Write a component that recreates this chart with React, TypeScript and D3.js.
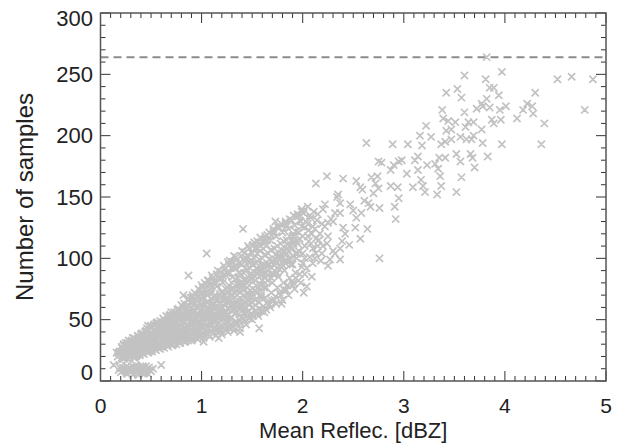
import React from "react";
import * as d3 from "d3";

// ---- data: [mean reflectivity (dBZ), number of samples] ----
const lowCluster: [number, number][] = [
  [0.13, 13], [0.18, 9], [0.2, 7], [0.22, 11], [0.25, 8], [0.27, 6], [0.28, 10], [0.3, 7], [0.31, 12],
  [0.33, 6], [0.34, 9], [0.36, 7], [0.37, 11], [0.38, 6], [0.4, 8], [0.41, 7], [0.43, 10], [0.44, 7],
  [0.46, 9], [0.48, 11], [0.5, 8], [0.52, 10], [0.6, 13], [0.35, 13], [0.24, 10], [0.29, 8],
  [0.42, 12], [0.32, 9], [0.39, 10], [0.26, 12], [0.45, 12], [0.21, 8],
  [0.19, 11], [0.23, 9], [0.26, 6], [0.3, 10], [0.32, 5], [0.35, 8], [0.37, 5], [0.39, 7], [0.41, 11],
  [0.43, 6], [0.45, 9], [0.47, 6], [0.49, 9], [0.27, 9], [0.34, 11], [0.36, 10],
];

const mainBand: [number, number][] = [
  [0.16, 23], [0.17, 20], [0.19, 24], [0.2, 17], [0.21, 28], [0.22, 21],
  [0.24, 19], [0.24, 26], [0.25, 31], [0.26, 23], [0.27, 18], [0.28, 28], [0.28, 33],
  [0.3, 21], [0.3, 25], [0.31, 30], [0.32, 35], [0.33, 19], [0.33, 27], [0.34, 23], [0.34, 32],
  [0.36, 21], [0.36, 29], [0.37, 36], [0.38, 25], [0.38, 33], [0.39, 22], [0.4, 30], [0.4, 38], [0.4, 27],
  [0.42, 23], [0.42, 34], [0.43, 29], [0.44, 40], [0.44, 25], [0.45, 36], [0.46, 31], [0.46, 43], [0.46, 27],
  [0.48, 24], [0.48, 38], [0.49, 33], [0.5, 29], [0.5, 45], [0.51, 26], [0.52, 41], [0.52, 35], [0.52, 30],
  [0.54, 27], [0.54, 37], [0.55, 44], [0.56, 32], [0.56, 48], [0.57, 29], [0.58, 40], [0.58, 35],
  [0.6, 28], [0.6, 38], [0.61, 46], [0.62, 33], [0.62, 51], [0.63, 30], [0.64, 42], [0.64, 37],
  [0.66, 29], [0.66, 45], [0.67, 39], [0.68, 53], [0.68, 34], [0.69, 31], [0.7, 48], [0.7, 41], [0.7, 56],
  [0.72, 30], [0.72, 36], [0.73, 44], [0.74, 52], [0.74, 39], [0.75, 33], [0.76, 58], [0.76, 47], [0.76, 42],
  [0.78, 31], [0.78, 50], [0.79, 37], [0.8, 45], [0.8, 62], [0.81, 34], [0.82, 55], [0.82, 41], [0.82, 48],
  [0.84, 32], [0.84, 58], [0.85, 39], [0.86, 46], [0.86, 66], [0.87, 36], [0.88, 52], [0.88, 43], [0.88, 61],
  [0.9, 33], [0.9, 49], [0.91, 70], [0.92, 40], [0.92, 56], [0.93, 37], [0.94, 63], [0.94, 45], [0.94, 52],
  [0.96, 34], [0.96, 59], [0.97, 42], [0.98, 74], [0.98, 49], [0.99, 38], [1.0, 66], [1.0, 54], [1.0, 45], [1.0, 78],
  [1.02, 35], [1.02, 61], [1.03, 48], [1.04, 71], [1.04, 41], [1.05, 56], [1.06, 82], [1.06, 39], [1.06, 52], [1.06, 65],
  [1.08, 36], [1.08, 58], [1.09, 75], [1.1, 46], [1.1, 86], [1.11, 43], [1.12, 68], [1.12, 53], [1.12, 62],
  [1.14, 37], [1.14, 79], [1.15, 49], [1.16, 57], [1.16, 90], [1.17, 44], [1.18, 71], [1.18, 64], [1.18, 52],
  [1.2, 38], [1.2, 84], [1.21, 60], [1.22, 47], [1.22, 94], [1.23, 55], [1.24, 75], [1.24, 67], [1.24, 42],
  [1.26, 40], [1.26, 88], [1.27, 58], [1.28, 50], [1.28, 98], [1.29, 70], [1.3, 63], [1.3, 80], [1.3, 45],
  [1.32, 41], [1.32, 92], [1.33, 55], [1.34, 74], [1.34, 101], [1.35, 48], [1.36, 66], [1.36, 84], [1.36, 60],
  [1.38, 43], [1.38, 96], [1.39, 52], [1.4, 78], [1.4, 106], [1.41, 58], [1.42, 70], [1.42, 88], [1.42, 64],
  [1.44, 46], [1.44, 100], [1.45, 56], [1.46, 82], [1.46, 110], [1.47, 62], [1.48, 74], [1.48, 92], [1.48, 68],
  [1.5, 50], [1.5, 104], [1.51, 60], [1.52, 86], [1.52, 113], [1.53, 66], [1.54, 78], [1.54, 96], [1.54, 72],
  [1.56, 53], [1.56, 108], [1.57, 64], [1.58, 90], [1.58, 117], [1.59, 70], [1.6, 82], [1.6, 100], [1.6, 58],
  [1.62, 56], [1.62, 112], [1.63, 68], [1.64, 94], [1.64, 76], [1.65, 119], [1.66, 86], [1.66, 104], [1.66, 62],
  [1.68, 60], [1.68, 115], [1.69, 72], [1.7, 98], [1.7, 80], [1.71, 122], [1.72, 90], [1.72, 108], [1.72, 66],
  [1.74, 63], [1.74, 118], [1.75, 76], [1.76, 102], [1.76, 85], [1.77, 125], [1.78, 94], [1.78, 112], [1.78, 70],
  [1.8, 66], [1.8, 121], [1.81, 80], [1.82, 106], [1.82, 90], [1.83, 128], [1.84, 98], [1.84, 115], [1.84, 74],
  [1.86, 70], [1.86, 124], [1.87, 84], [1.88, 110], [1.88, 95], [1.89, 131], [1.9, 102], [1.9, 118], [1.9, 78],
  [1.92, 75], [1.92, 127], [1.93, 88], [1.94, 114], [1.94, 100], [1.95, 134], [1.96, 106], [1.96, 121], [1.96, 82],
  [1.98, 80], [1.98, 130], [1.99, 93], [2.0, 118], [2.0, 104], [2.01, 137], [2.02, 110], [2.02, 125], [2.02, 87],
  [2.04, 92], [2.05, 128], [2.06, 114], [2.07, 101], [2.08, 133], [2.09, 120], [2.1, 96], [2.1, 108],
  [2.12, 124], [2.13, 104], [2.15, 136], [2.16, 115], [2.18, 98], [2.19, 128], [2.2, 110], [2.2, 140],
];

const bandCore: [number, number][] = [
  [0.26, 24], [0.29, 27], [0.32, 24], [0.35, 28], [0.37, 26], [0.41, 31], [0.44, 28], [0.47, 34], [0.5, 32],
  [0.53, 37], [0.55, 33], [0.59, 36], [0.61, 41], [0.63, 35], [0.65, 43], [0.67, 37], [0.69, 45], [0.71, 40],
  [0.73, 47], [0.75, 38], [0.77, 44], [0.79, 52], [0.81, 42], [0.83, 49], [0.85, 55], [0.87, 44], [0.89, 53],
  [0.91, 47], [0.93, 58], [0.95, 50], [0.97, 44], [0.99, 57], [1.01, 50], [1.03, 63], [1.05, 46], [1.07, 58],
  [1.09, 52], [1.11, 66], [1.13, 48], [1.15, 61], [1.17, 54], [1.19, 68], [1.21, 51], [1.23, 63], [1.25, 72],
  [1.27, 54], [1.29, 66], [1.31, 76], [1.33, 59], [1.35, 70], [1.37, 79], [1.39, 62], [1.41, 74], [1.43, 83],
  [1.45, 66], [1.47, 78], [1.49, 87], [1.51, 70], [1.53, 82], [1.55, 91], [1.57, 74], [1.59, 86], [1.61, 95],
  [1.63, 80], [1.65, 90], [1.67, 99], [1.69, 84], [1.71, 95], [1.73, 103], [1.75, 88], [1.77, 99], [1.79, 107],
  [1.81, 94], [1.83, 103], [1.85, 111], [1.87, 99], [1.89, 108], [1.91, 114], [1.93, 104], [1.95, 112],
  [0.3, 29], [0.34, 26], [0.38, 30], [0.42, 27], [0.46, 37], [0.5, 36], [0.54, 31], [0.58, 43], [0.62, 39],
  [0.66, 34], [0.7, 44], [0.74, 35], [0.78, 41], [0.82, 38], [0.86, 50], [0.9, 42], [0.94, 40], [0.98, 53],
  [1.02, 44], [1.06, 60], [1.1, 56], [1.14, 42], [1.18, 58], [1.22, 66], [1.26, 48], [1.3, 58], [1.34, 65],
  [1.38, 72], [1.42, 56], [1.46, 72], [1.5, 64], [1.54, 88], [1.58, 79], [1.62, 85], [1.66, 94], [1.7, 88],
  [1.74, 96], [1.78, 102], [1.82, 98], [1.86, 106], [1.9, 95],
];

const denseFill: [number, number][] = [
  [0.21, 19], [0.21, 24], [0.21, 27], [0.23, 18], [0.23, 22], [0.23, 29], [0.25, 20], [0.25, 25], [0.25, 28],
  [0.27, 21], [0.27, 27], [0.27, 31], [0.29, 19], [0.29, 23], [0.29, 32], [0.31, 21], [0.31, 26], [0.31, 33],
  [0.33, 22], [0.33, 29], [0.33, 35], [0.35, 20], [0.35, 25], [0.35, 34], [0.37, 23], [0.37, 31], [0.37, 37],
  [0.39, 21], [0.39, 27], [0.39, 36], [0.41, 24], [0.41, 33], [0.41, 39], [0.43, 22], [0.43, 28], [0.43, 38],
  [0.45, 25], [0.45, 32], [0.45, 41], [0.47, 23], [0.47, 30], [0.47, 42], [0.49, 26], [0.49, 35], [0.49, 44],
  [0.51, 24], [0.51, 31], [0.51, 43], [0.53, 27], [0.53, 34], [0.53, 46], [0.55, 25], [0.55, 38], [0.55, 47],
  [0.57, 28], [0.57, 33], [0.57, 45], [0.59, 26], [0.59, 39], [0.59, 49], [0.61, 29], [0.61, 36], [0.61, 48],
  [0.63, 27], [0.63, 41], [0.63, 50], [0.65, 30], [0.65, 38], [0.65, 53], [0.67, 28], [0.67, 43], [0.67, 51],
  [0.69, 31], [0.69, 37], [0.69, 54], [0.71, 29], [0.71, 46], [0.71, 52], [0.73, 32], [0.73, 41], [0.73, 56],
  [0.75, 30], [0.75, 49], [0.75, 55], [0.77, 33], [0.77, 39], [0.77, 59], [0.79, 31], [0.79, 46], [0.79, 57],
  [0.81, 34], [0.81, 52], [0.81, 61], [0.83, 32], [0.83, 44], [0.83, 63], [0.85, 35], [0.85, 51], [0.85, 60],
  [0.87, 33], [0.87, 57], [0.87, 67], [0.89, 36], [0.89, 47], [0.89, 64], [0.91, 34], [0.91, 55], [0.91, 68],
  [0.93, 37], [0.93, 49], [0.93, 72], [0.95, 35], [0.95, 61], [0.95, 69], [0.97, 38], [0.97, 53], [0.97, 75],
  [0.99, 36], [0.99, 47], [0.99, 71], [1.01, 39], [1.01, 59], [1.01, 76], [1.03, 37], [1.03, 55], [1.03, 80],
  [1.05, 40], [1.05, 64], [1.05, 73], [1.07, 38], [1.07, 51], [1.07, 82], [1.09, 41], [1.09, 61], [1.09, 79],
  [1.11, 39], [1.11, 57], [1.11, 84], [1.13, 42], [1.13, 70], [1.13, 80], [1.15, 40], [1.15, 53], [1.15, 87],
  [1.17, 43], [1.17, 66], [1.17, 84], [1.19, 41], [1.19, 59], [1.19, 89], [1.21, 44], [1.21, 73], [1.21, 86],
  [1.23, 42], [1.23, 57], [1.23, 91], [1.25, 45], [1.25, 65], [1.25, 88], [1.27, 43], [1.27, 78], [1.27, 95],
  [1.29, 46], [1.29, 61], [1.29, 92], [1.31, 44], [1.31, 70], [1.31, 97], [1.33, 48], [1.33, 83], [1.33, 94],
  [1.35, 46], [1.35, 63], [1.35, 99], [1.37, 50], [1.37, 75], [1.37, 96], [1.39, 47], [1.39, 87], [1.39, 102],
  [1.41, 51], [1.41, 66], [1.41, 99], [1.43, 49], [1.43, 78], [1.43, 105], [1.45, 53], [1.45, 91], [1.45, 102],
  [1.47, 51], [1.47, 70], [1.47, 108], [1.49, 55], [1.49, 83], [1.49, 105], [1.51, 53], [1.51, 95], [1.51, 111],
  [1.53, 57], [1.53, 74], [1.53, 108], [1.55, 55], [1.55, 87], [1.55, 114], [1.57, 59], [1.57, 99], [1.57, 111],
  [1.59, 57], [1.59, 78], [1.59, 116], [1.61, 61], [1.61, 91], [1.61, 113], [1.63, 59], [1.63, 103], [1.63, 118],
  [1.65, 64], [1.65, 82], [1.65, 115], [1.67, 62], [1.67, 95], [1.67, 121], [1.69, 66], [1.69, 107],
  [1.71, 87], [1.71, 124], [1.73, 69], [1.73, 99], [1.75, 110], [1.75, 126], [1.77, 72], [1.77, 91],
  [1.79, 104], [1.79, 128], [1.81, 75], [1.81, 114], [1.83, 96], [1.83, 130], [1.85, 78], [1.85, 108],
  [1.87, 118], [1.87, 132], [1.89, 81], [1.89, 100], [1.91, 112], [1.91, 135], [1.93, 84], [1.93, 122],
  [1.95, 104], [1.95, 136], [1.97, 87], [1.97, 116], [1.99, 126], [1.99, 138],
];

const coreExtra: [number, number][] = [
  [0.22, 25], [0.24, 22], [0.26, 29], [0.28, 21], [0.3, 32], [0.31, 23], [0.33, 31], [0.34, 20], [0.36, 33],
  [0.37, 24], [0.38, 35], [0.4, 24], [0.41, 36], [0.42, 29], [0.44, 33], [0.45, 27], [0.46, 39], [0.47, 26],
  [0.48, 41], [0.5, 27], [0.51, 38], [0.52, 44], [0.53, 29], [0.55, 41], [0.56, 28], [0.57, 37], [0.58, 47],
  [0.6, 33], [0.61, 43], [0.62, 29], [0.63, 46], [0.64, 32], [0.65, 49], [0.66, 40], [0.67, 31], [0.68, 47],
  [0.69, 35], [0.7, 52], [0.71, 34], [0.72, 50], [0.73, 37], [0.74, 45], [0.75, 53], [0.76, 35], [0.77, 50],
  [0.78, 57], [0.79, 40], [0.8, 54], [0.8, 35], [0.81, 48], [0.82, 60], [0.83, 38], [0.84, 52], [0.85, 45],
  [0.86, 62], [0.87, 40], [0.88, 56], [0.89, 68], [0.9, 45], [0.9, 60], [0.91, 38], [0.92, 65], [0.93, 52],
  [0.94, 42], [0.95, 66], [0.96, 48], [0.97, 70], [0.98, 40], [0.99, 62], [1.0, 50], [1.0, 72], [1.01, 43],
  [1.02, 68], [1.03, 53], [1.04, 76], [1.05, 44], [1.06, 70], [1.07, 48], [1.08, 78], [1.09, 57], [1.1, 41],
  [1.1, 72], [1.11, 62], [1.12, 82], [1.13, 50], [1.14, 66], [1.15, 77], [1.16, 46], [1.17, 60], [1.18, 84],
  [1.19, 50], [1.2, 72], [1.21, 80], [1.22, 54], [1.23, 69], [1.24, 86], [1.25, 50], [1.26, 76], [1.27, 64],
  [1.28, 88], [1.29, 52], [1.3, 74], [1.31, 85], [1.32, 60], [1.33, 72], [1.34, 92], [1.35, 56], [1.36, 78],
  [1.37, 88], [1.38, 58], [1.39, 80], [1.4, 95], [1.41, 62], [1.42, 82], [1.43, 92], [1.44, 60], [1.45, 76],
  [1.46, 97], [1.47, 66], [1.48, 86], [1.49, 98], [1.5, 72], [1.51, 84], [1.52, 100], [1.53, 62], [1.54, 92],
  [1.55, 104], [1.56, 76], [1.57, 90], [1.58, 106], [1.59, 68], [1.6, 94], [1.61, 108], [1.62, 76], [1.63, 88],
  [1.64, 110],
];

const transition: [number, number][] = [
  [2.0, 96], [2.03, 130], [2.05, 118], [2.08, 112], [2.1, 126], [2.12, 100], [2.14, 131], [2.17, 120],
  [2.22, 126], [2.25, 118], [2.28, 132], [2.3, 106], [2.05, 142], [2.11, 138], [2.02, 100], [2.15, 110],
  [2.19, 104], [2.24, 112], [2.06, 123], [2.13, 116],
  [1.99, 140], [2.07, 135], [2.1, 126], [1.97, 131], [1.91, 118], [1.71, 120], [1.61, 115], [1.5, 110],
  [1.32, 102], [1.26, 97], [1.12, 81], [0.98, 74], [0.82, 70], [2.09, 85], [2.04, 77], [1.91, 80],
  [1.82, 74], [1.64, 58],
];

const outliers: [number, number][] = [
  [1.41, 124], [1.05, 104], [0.87, 86], [1.73, 130], [1.84, 126], [1.57, 43], [0.6, 13], [0.13, 13],
  [2.01, 72], [1.79, 63], [1.38, 40], [1.17, 35], [1.02, 32], [0.47, 45], [0.77, 58], [0.23, 30], [0.18, 23],
];

const upperTail: [number, number][] = [
  [3.82, 264], [3.97, 252], [3.6, 249], [4.52, 246], [4.66, 248], [4.87, 246], [3.81, 246], [3.53, 238],
  [3.42, 235], [3.57, 231], [3.85, 239], [3.89, 239], [3.94, 233], [4.3, 235], [3.82, 230], [3.77, 226],
  [3.72, 222], [3.78, 224], [3.85, 223], [4.01, 224], [3.95, 221], [4.22, 226], [4.27, 224], [4.18, 221],
  [4.28, 218], [4.12, 214], [4.39, 210], [4.79, 221], [3.38, 221], [3.39, 214], [3.44, 212], [3.51, 211],
  [3.6, 219], [3.64, 211], [3.69, 211], [3.87, 213], [3.89, 210], [3.96, 213], [3.77, 205], [3.61, 207],
  [3.42, 204], [3.47, 205], [3.22, 208], [3.16, 200], [3.27, 199], [3.56, 199], [3.62, 197], [3.67, 197],
  [3.69, 200], [3.47, 197], [3.41, 195], [3.37, 193], [3.78, 194], [3.97, 193], [4.36, 193], [3.18, 192],
  [2.63, 194], [2.89, 193], [3.04, 193], [3.52, 185], [3.66, 185], [3.68, 182], [3.83, 183], [3.7, 174],
  [3.56, 179], [3.57, 166], [3.52, 154], [3.14, 183], [3.11, 180], [3.23, 176], [3.31, 177], [3.35, 182],
  [3.41, 182], [3.34, 173], [3.36, 167], [3.14, 172], [3.17, 164], [3.19, 159], [3.21, 154], [3.33, 152],
  [3.37, 159], [3.09, 158], [2.98, 180], [2.95, 179], [2.9, 176], [2.87, 172], [2.75, 179], [2.78, 178],
  [3.03, 169], [2.87, 159], [2.94, 158], [2.95, 149], [2.91, 142], [2.92, 132], [2.74, 167], [2.72, 161],
  [2.75, 157], [2.68, 166], [2.7, 153], [2.57, 158], [2.59, 156], [2.53, 163], [2.4, 165], [2.24, 167],
  [2.13, 161], [2.35, 152], [2.34, 150], [2.22, 144], [2.61, 147], [2.65, 145], [2.67, 142], [2.76, 141],
  [2.47, 144], [2.5, 139], [2.58, 137], [2.53, 133], [2.37, 145], [2.37, 137], [2.32, 137], [2.3, 130],
  [2.52, 125], [2.64, 124], [2.57, 116], [2.46, 111], [2.76, 100], [2.25, 129], [2.4, 125], [2.42, 120],
  [2.39, 114], [2.37, 108], [2.32, 104], [2.37, 99], [2.27, 99], [2.25, 94],
];

const maxSamples = 264;
const xTickLabels = ["0", "1", "2", "3", "4", "5"];
const yTickLabels = ["0", "50", "100", "150", "200", "250", "300"];

const W = 623;
const H = 443;
const FONT = "'Liberation Sans', Arial, Helvetica, sans-serif";

export default function App() {
  const x = d3.scaleLinear().domain([0, 5]).range([100.5, 606]);
  const y = d3.scaleLinear().domain([0, 300]).range([381, 13]);
  const [x0, x1] = x.range();
  const [y0, y1] = y.range();

  const xMajor = d3.range(0, 5.0001, 1);
  const xMinor = d3.range(0, 5.0001, 0.1).filter((v) => Math.abs(v - Math.round(v)) > 1e-6);
  const yMajor = d3.range(0, 300.01, 50);
  const yMinor = d3.range(0, 300.01, 10).filter((v) => v % 50 !== 0);

  const all = [
    ...lowCluster,
    ...mainBand,
    ...bandCore,
    ...denseFill,
    ...coreExtra,
    ...transition,
    ...outliers,
    ...upperTail,
  ];
  const s = 3.6;
  const crossPath = all
    .map(([rx, n]) => {
      const cx = x(rx);
      const cy = y(n);
      return `M${cx - s},${cy - s}L${cx + s},${cy + s}M${cx - s},${cy + s}L${cx + s},${cy - s}`;
    })
    .join("");

  const majLen = 10;
  const minLen = 5;
  const tickColor = "#333";
  const yLabelNudge = (v: number) => (v === 0 ? -9 : v === 300 ? 5 : 0);

  return (
    <svg
      width={W}
      height={H}
      style={{ position: "absolute", left: 0, top: 0, background: "#fff" }}
      fontFamily={FONT}
    >
      <line
        x1={x0}
        x2={x1}
        y1={y(maxSamples)}
        y2={y(maxSamples)}
        stroke="#8c8c8c"
        strokeWidth={2}
        strokeDasharray="8,5"
      />
      <path d={crossPath} stroke="#c2c2c2" strokeWidth={1.7} fill="none" />

      <g stroke={tickColor} strokeWidth={1}>
        {xMajor.map((v) => (
          <g key={"xm" + v}>
            <line x1={x(v)} x2={x(v)} y1={y0} y2={y0 - majLen} />
            <line x1={x(v)} x2={x(v)} y1={y1} y2={y1 + majLen} />
          </g>
        ))}
        {xMinor.map((v) => (
          <g key={"xn" + v}>
            <line x1={x(v)} x2={x(v)} y1={y0} y2={y0 - minLen} />
            <line x1={x(v)} x2={x(v)} y1={y1} y2={y1 + minLen} />
          </g>
        ))}
        {yMajor.map((v) => (
          <g key={"ym" + v}>
            <line x1={x0} x2={x0 + majLen} y1={y(v)} y2={y(v)} />
            <line x1={x1} x2={x1 - majLen} y1={y(v)} y2={y(v)} />
          </g>
        ))}
        {yMinor.map((v) => (
          <g key={"yn" + v}>
            <line x1={x0} x2={x0 + minLen} y1={y(v)} y2={y(v)} />
            <line x1={x1} x2={x1 - minLen} y1={y(v)} y2={y(v)} />
          </g>
        ))}
      </g>

      <rect
        x={x0}
        y={y1}
        width={x1 - x0}
        height={y0 - y1}
        fill="none"
        stroke="#555"
        strokeWidth={1.5}
      />

      <g fill="#222">
        {xMajor.map((v, i) => (
          <text key={"xl" + v} x={x(v)} y={413} textAnchor="middle" fontSize={21}>
            {xTickLabels[i]}
          </text>
        ))}
        {yMajor.map((v, i) => (
          <text
            key={"yl" + v}
            x={93}
            y={y(v) + yLabelNudge(v)}
            dy="0.35em"
            textAnchor="end"
            fontSize={22}
          >
            {yTickLabels[i]}
          </text>
        ))}
      </g>

      <text x={(x0 + x1) / 2} y={438} textAnchor="middle" fontSize={22} fill="#222">
        Mean Reflec. [dBZ]
      </text>
      <text
        transform={`translate(33, ${(y0 + y1) / 2}) rotate(-90)`}
        textAnchor="middle"
        fontSize={24}
        fill="#222"
      >
        Number of samples
      </text>
    </svg>
  );
}
